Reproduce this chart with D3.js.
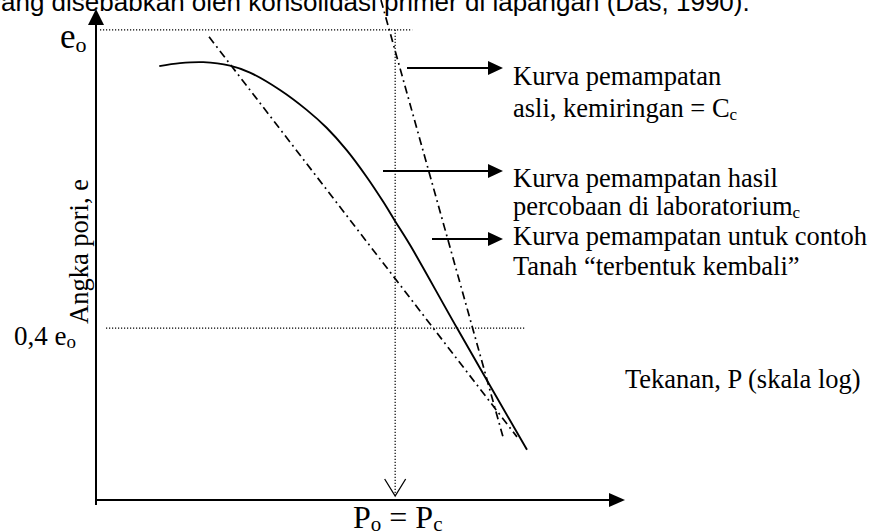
<!DOCTYPE html>
<html lang="id">
<head>
<meta charset="UTF-8">
<title>Kurva pemampatan</title>
<style>
    body { margin: 0; background: #fff; }
    svg { display: block; }
    .serif { font-family: "Liberation Serif", "Times New Roman", serif; fill: #000; }
    .dotted { stroke: #000; stroke-width: 1.2; stroke-dasharray: 1.2, 1.8; fill: none; }
    .dashdot { stroke: #000; stroke-width: 1.7; stroke-dasharray: 8, 4, 1.8, 4; fill: none; }
</style>
</head>
<body>
<svg width="869" height="531"></svg>
<script src="https://d3js.org/d3.v7.min.js"></script>
<script>
// kurva hasil percobaan laboratorium (garis penuh)
var labP = [0.435, 0.70, 1.20, 2.22, 3.52, 7.03, 13.0, 20.6, 32.7, 51.9, 76.0, 100, 141, 416, 2089];
var labE = [0.927, 0.933, 0.935, 0.928, 0.914, 0.879, 0.839, 0.803, 0.758, 0.704, 0.654, 0.615, 0.567, 0.400, 0.155];

// kurva asli (curam) dan contoh terbentuk kembali, garis titik-strip
var asliP = [72.1, 1201];
var asliE = [1.060, 0.181];
var remoldP = [1.37, 1658];
var remoldE = [0.986, 0.181];

var eo = 1.0;
var Po = 100;

var svg = d3.select("svg");

var x = d3.scaleLog().domain([0.1, 20000]).range([95.5, 625]);
var y = d3.scaleLinear().domain([0.054, 1.042]).range([500, 9]);

var line = d3.line()
    .x(function(d) { return x(d[0]); })
    .y(function(d) { return y(d[1]); });

// teks paragraf di atas (terpotong)
svg.append("text")
    .attr("x", -12)
    .attr("y", 11)
    .style("font-family", "'Liberation Sans', Arial, sans-serif")
    .style("font-size", "26px")
    .text("yang disebabkan oleh konsolidasi primer di lapangan (Das, 1990).");

// garis bantu titik-titik
svg.append("line").attr("class", "dotted")
    .attr("x1", 100).attr("x2", x(Po) + 17)
    .attr("y1", y(eo)).attr("y2", y(eo));
svg.append("line").attr("class", "dotted")
    .attr("x1", 106).attr("x2", 525)
    .attr("y1", y(0.4 * eo)).attr("y2", y(0.4 * eo));
svg.append("line").attr("class", "dotted")
    .attr("x1", x(Po)).attr("x2", x(Po))
    .attr("y1", y(eo)).attr("y2", 495);
svg.append("path")
    .attr("d", "M" + (x(Po) - 10.5) + ",479L" + x(Po) + ",496L" + (x(Po) + 10.5) + ",479")
    .attr("fill", "none").attr("stroke", "#000").attr("stroke-width", 1.3);

// sumbu
svg.append("line").attr("x1", 96).attr("x2", 96).attr("y1", 20).attr("y2", 505)
    .attr("stroke", "#000").attr("stroke-width", 2);
svg.append("line").attr("x1", 95).attr("x2", 612).attr("y1", 500).attr("y2", 500)
    .attr("stroke", "#000").attr("stroke-width", 2);
svg.append("path").attr("d", "M96,9L104,25L88,25Z").attr("fill", "#000");
svg.append("path").attr("d", "M625,500L609,493L609,507Z").attr("fill", "#000");

// kurva
svg.append("path").attr("class", "dashdot")
    .attr("d", line(d3.zip(remoldP, remoldE)));
svg.append("path").attr("class", "dashdot")
    .attr("d", line(d3.zip(asliP, asliE)));
svg.append("path")
    .attr("d", line.curve(d3.curveCatmullRom)(d3.zip(labP, labE)))
    .attr("fill", "none").attr("stroke", "#000").attr("stroke-width", 1.9);

// panah keterangan
var arrows = [[407, 68], [383, 171], [432, 239]];
arrows.forEach(function(a) {
    svg.append("line").attr("x1", a[0]).attr("x2", 490).attr("y1", a[1]).attr("y2", a[1])
        .attr("stroke", "#000").attr("stroke-width", 2);
    svg.append("path").attr("d", "M503," + a[1] + "L488," + (a[1] - 7) + "L488," + (a[1] + 7) + "Z")
        .attr("fill", "#000");
});

function label(xp, yp, size, parts) {
    var t = svg.append("text").attr("class", "serif")
        .attr("x", xp).attr("y", yp).style("font-size", size + "px");
    parts.forEach(function(p) {
        var s = t.append("tspan").text(p[0]);
        if (p[1]) s.style("font-size", p[1] + "px").attr("dy", p[2]);
    });
    return t;
}

label(513, 85, 26.5, [["Kurva pemampatan"]]);
label(513, 117, 26.5, [["asli, kemiringan = C"], ["c", 17, 3]]);
label(513, 187, 26.5, [["Kurva pemampatan hasil"]]);
label(513, 215, 26.5, [["percobaan di laboratorium"], ["c", 17, 3]]);
label(513, 245, 26.5, [["Kurva pemampatan untuk contoh"]]);
label(513, 275, 26.5, [["Tanah \u201cterbentuk kembali\u201d"]]);
label(625, 388, 26.5, [["Tekanan, P (skala log)"]]);

label(60, 48, 35, [["e"], ["o", 22, 4]]);
label(14, 345, 27, [["0,4 e"], ["o", 19, 3]]);

var po = label(353, 528, 32, [["P"], ["o", 21, 3]]);
po.append("tspan").text(" = P").attr("dy", -3);
po.append("tspan").text("c").style("font-size", "21px").attr("dy", 3);

svg.append("text").attr("class", "serif")
    .attr("transform", "translate(88,251.5) rotate(-90)")
    .attr("text-anchor", "middle")
    .style("font-size", "26.5px")
    .text("Angka pori, e");
</script>
</body>
</html>
